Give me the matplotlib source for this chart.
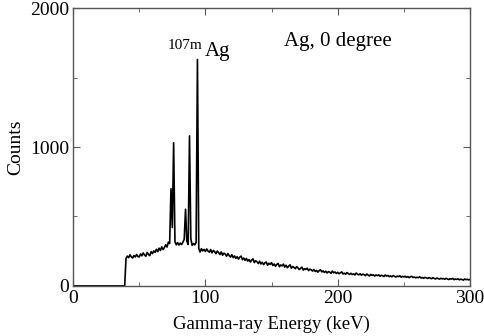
import numpy as np
import matplotlib
matplotlib.use("Agg")
import matplotlib.pyplot as plt
from matplotlib.ticker import MultipleLocator

# Energy channels (keV)
energy = list(range(0, 301))
# counts below the threshold (0-39 keV)
counts_low = [0] * 40
# counts from 40 keV to 300 keV, 1 keV per channel
counts_high = [
    198, 215, 203, 224, 210, 201, 219, 208, 226, 212,
    209, 230, 217, 238, 222, 214, 241, 226, 218, 247,
    233, 252, 241, 264, 247, 272, 255, 281, 262, 276,
    296, 280, 315, 305, 700, 420, 1030, 318, 296, 312,
    294, 308, 298, 315, 335, 552, 322, 298, 1080, 340,
    292, 305, 296, 312, 1630, 270, 244, 268, 252, 263,
    248, 266, 251, 243, 262, 238, 255, 247, 232, 251,
    240, 226, 245, 221, 236, 229, 214, 233, 219, 208,
    225, 204, 216, 198, 211, 193, 207, 215, 189, 201,
    184, 198, 179, 190, 172, 186, 195, 168, 181, 174,
    161, 178, 158, 170, 153, 166, 172, 149, 163, 155,
    168, 147, 158, 141, 155, 162, 138, 151, 144, 157,
    136, 149, 131, 143, 152, 128, 140, 133, 124, 139,
    130, 118, 127, 135, 114, 124, 119, 128, 110, 121,
    116, 107, 119, 104, 112, 99, 110, 117, 101, 108,
    97, 106, 93, 103, 99, 91, 107, 95, 100, 90,
    98, 88, 94, 101, 86, 92, 84, 96, 89, 83,
    91, 82, 87, 79, 93, 84, 80, 88, 77, 85,
    81, 74, 86, 78, 72, 83, 76, 80, 71, 79,
    74, 80, 70, 77, 73, 68, 79, 71, 75, 67,
    72, 66, 75, 69, 64, 71, 67, 73, 63, 69,
    65, 70, 62, 67, 60, 66, 69, 61, 64, 58,
    63, 59, 66, 57, 61, 55, 62, 58, 54, 60,
    56, 52, 59, 54, 50, 57, 53, 49, 55, 51,
    53, 48, 55, 50, 46, 52, 49, 54, 45, 50,
    47, 51, 44, 49, 46, 42, 50, 45, 48, 43,
    47,
]
counts = counts_low + counts_high

plt.rcParams['font.family'] = ['Liberation Serif', 'DejaVu Serif']

fig = plt.figure(figsize=(4.84, 3.36), dpi=100)
ax = fig.add_axes([0.151, 0.149, 0.820, 0.827])
ax.plot(energy, counts, color='black', lw=1.2)
ax.set_xlim(0, 300)
ax.set_ylim(0, 2000)
ax.xaxis.set_major_locator(MultipleLocator(100))
ax.xaxis.set_minor_locator(MultipleLocator(50))
ax.yaxis.set_major_locator(MultipleLocator(1000))
ax.yaxis.set_minor_locator(MultipleLocator(500))
frame_col = '#555555'
for s in ax.spines.values():
    s.set_color(frame_col)
    s.set_linewidth(1.0)
ax.tick_params(which='both', direction='in', top=True, right=True,
               color=frame_col, labelsize=14, pad=3)
ax.tick_params(which='major', length=5)
ax.tick_params(which='minor', length=3)
ax.set_xlabel('Gamma-ray Energy (keV)', fontsize=13.5, labelpad=6)
ax.set_ylabel('Counts', fontsize=14, labelpad=4)

ax.text(0.667, 0.878, 'Ag, 0 degree', transform=ax.transAxes, fontsize=15,
        ha='center', va='center')
ax.text(0.282, 0.867, '107m', transform=ax.transAxes, fontsize=11,
        ha='center', va='center')
ax.text(0.363, 0.842, 'Ag', transform=ax.transAxes, fontsize=15,
        ha='center', va='center')

fig.savefig('out.png', dpi=100)
